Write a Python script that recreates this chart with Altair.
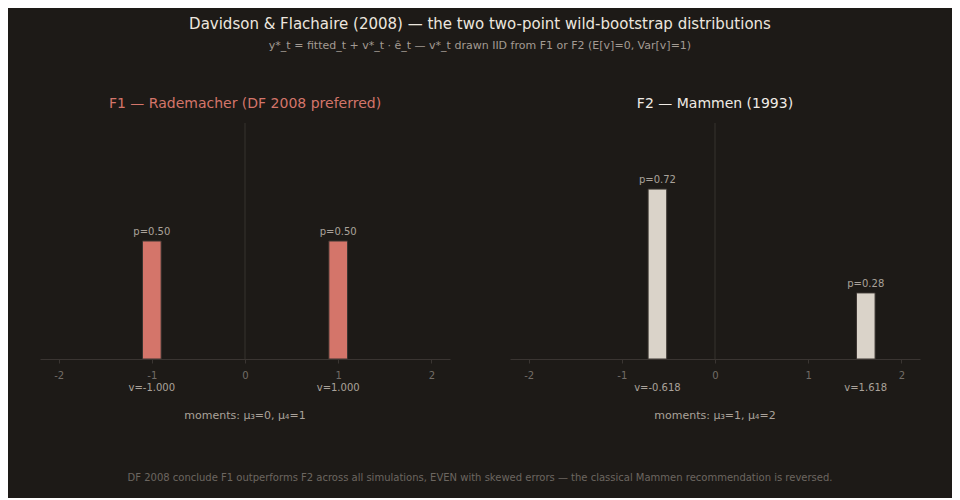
import altair as alt
import pandas as pd

# ---- data ----
dist_names = ["F1", "F1", "F2", "F2"]
v_values = [-1.000, 1.000, -0.618, 1.618]
probabilities = [0.50, 0.50, 0.72, 0.28]

panel_titles = {"F1": "F1 — Rademacher (DF 2008 preferred)", "F2": "F2 — Mammen (1993)"}
moment_text = {"F1": "moments: μ₃=0, μ₄=1", "F2": "moments: μ₃=1, μ₄=2"}
x_ticks = [-2, -1, 0, 1, 2]

TITLE = "Davidson & Flachaire (2008) — the two two-point wild-bootstrap distributions"
SUBTITLE = "y*_t = fitted_t + v*_t · ê_t — v*_t drawn IID from F1 or F2 (E[v]=0, Var[v]=1)"
FOOTER = ("DF 2008 conclude F1 outperforms F2 across all simulations, EVEN with skewed errors — "
          "the classical Mammen recommendation is reversed.")

BG = "#1d1a17"
BAR_COLORS = {"F1": "#d4756a", "F2": "#dad3c9"}
TITLE_COLORS = {"F1": "#d4756a", "F2": "#f0ebe5"}
FONT = "DejaVu Sans"

W, H = 410, 236
HALF_W = 0.1
SPACING = 60

df = pd.DataFrame({"dist": dist_names, "v": v_values, "p": probabilities})
df["lo"] = df["v"] - HALF_W
df["hi"] = df["v"] + HALF_W
df["plabel"] = df["p"].map(lambda p: f"p={p:.2f}")
df["vlabel"] = df["v"].map(lambda v: f"v={v:.3f}")

xscale = alt.Scale(domain=[-2.2, 2.2], nice=False, zero=False)
yscale = alt.Scale(domain=[0, 1], nice=False)


def panel(name):
    d = df[df["dist"] == name].copy()
    d["moments"] = moment_text[name]
    base = alt.Chart(d)
    zero = base.mark_rule(color="#2e2a27", strokeWidth=1).encode(
        x=alt.datum(0, scale=xscale)
    )
    bars = base.mark_bar(color=BAR_COLORS[name], stroke="#3a3430", strokeWidth=1).encode(
        x=alt.X(
            "lo:Q",
            scale=xscale,
            axis=alt.Axis(
                values=x_ticks, title=None, grid=False, labelExpr="'' + datum.value",
                domainColor="#3a3532", tickColor="#3a3532", labelColor="#726c66",
                labelFontSize=10, tickSize=4, labelPadding=7, labelFont=FONT,
            ),
        ),
        x2="hi:Q",
        y=alt.Y("p:Q", scale=yscale, axis=None),
        y2=alt.datum(0),
    )
    plab = base.mark_text(color="#aaa29a", fontSize=10, dy=-9, font=FONT).encode(
        x=alt.X("v:Q", scale=xscale), y=alt.Y("p:Q", scale=yscale), text="plabel:N"
    )
    vlab = base.mark_text(color="#aaa29a", fontSize=10, baseline="middle", font=FONT).encode(
        x=alt.X("v:Q", scale=xscale), y=alt.value(H + 29), text="vlabel:N"
    )
    mom = base.transform_filter(alt.datum.v < 0).mark_text(
        color="#aaa29a", fontSize=11, baseline="middle", font=FONT
    ).encode(x=alt.value(W / 2), y=alt.value(H + 57), text="moments:N")
    return alt.layer(zero, bars, plab, vlab, mom).properties(
        width=W,
        height=H,
        title=alt.TitleParams(
            panel_titles[name], color=TITLE_COLORS[name], fontSize=14,
            fontWeight="normal", font=FONT, offset=12, anchor="middle",
        ),
    )


footer_df = pd.DataFrame({"text": [FOOTER]})
footer = (
    alt.Chart(footer_df)
    .mark_text(color="#6c6660", fontSize=10, baseline="middle", font=FONT)
    .encode(x=alt.value((2 * W + SPACING) / 2), y=alt.value(10), text="text:N")
    .properties(width=2 * W + SPACING, height=20)
)

chart = (
    alt.vconcat(
        alt.hconcat(panel("F1"), panel("F2"), spacing=SPACING),
        footer,
        spacing=47,
    )
    .properties(
        title=alt.TitleParams(
            TITLE, subtitle=SUBTITLE, color="#ece6df", subtitleColor="#a39b93",
            fontSize=15, subtitleFontSize=11, fontWeight="normal", font=FONT,
            subtitleFont=FONT, anchor="middle", offset=46, subtitlePadding=8,
        ),
        padding={"left": 32, "right": 32, "top": 8, "bottom": 10},
        background=BG,
    )
    .configure_view(stroke=None)
)

chart.save("out.html", embed_options={"renderer": "svg", "actions": False})
